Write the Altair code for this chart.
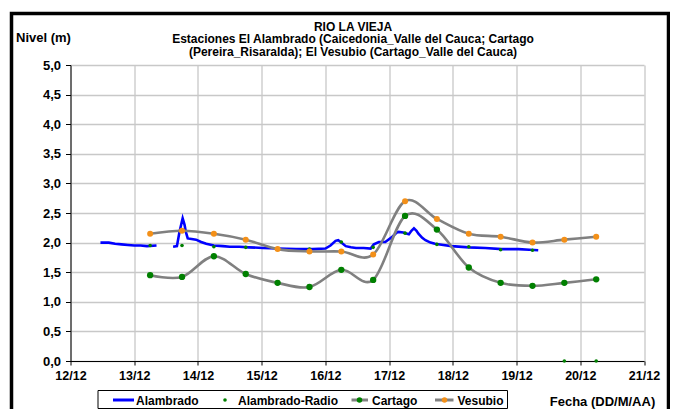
import altair as alt
import pandas as pd

# ---- Datos (día de diciembre con hora fraccionaria) ----
dias_estaciones = [13.25, 13.75, 14.25, 14.75, 15.25, 15.75, 16.25, 16.75,
                   17.25, 17.75, 18.25, 18.75, 19.25, 19.75, 20.25]
vesubio = [2.15, 2.20, 2.15, 2.05, 1.89, 1.85, 1.85, 1.80,
           2.70, 2.40, 2.15, 2.10, 2.00, 2.05, 2.10]
cartago = [1.45, 1.42, 1.77, 1.47, 1.32, 1.25, 1.54, 1.37,
           2.45, 2.22, 1.58, 1.32, 1.27, 1.32, 1.38]
alambrado_radio = [1.95, 1.95, 1.93, 1.92, 1.90, 1.89, 2.01, 1.92,
                   2.16, 1.97, 1.93, 1.88, 1.87, 0.00, 0.00]

alambrado_dia_a = [12.47, 12.60, 12.70, 12.80, 12.90, 13.00, 13.10, 13.20, 13.35]
alambrado_nivel_a = [2.00, 2.00, 1.98, 1.97, 1.96, 1.95, 1.95, 1.94, 1.95]

alambrado_dia_b = [13.61, 13.67, 13.71, 13.76, 13.79, 13.81, 13.84, 13.90, 13.97,
                   14.05, 14.13, 14.25, 14.39, 14.50, 14.65, 14.80, 15.02, 15.25,
                   15.54, 15.80, 16.00, 16.08, 16.16, 16.20, 16.24, 16.32, 16.40,
                   16.48, 16.60, 16.71, 16.76, 16.84, 16.94, 17.05, 17.12, 17.15,
                   17.22, 17.31, 17.35, 17.39, 17.43, 17.46, 17.52, 17.57, 17.65,
                   17.72, 17.85, 17.98, 18.25, 18.51, 18.77, 19.03, 19.20, 19.34]
alambrado_nivel_b = [1.93, 1.94, 2.18, 2.41, 2.30, 2.18, 2.07, 2.06, 2.05,
                     2.01, 1.98, 1.95, 1.94, 1.93, 1.93, 1.92, 1.91, 1.90,
                     1.89, 1.89, 1.90, 1.95, 2.03, 2.04, 2.01, 1.94, 1.92,
                     1.91, 1.91, 1.90, 1.97, 2.01, 2.01, 2.10, 2.17, 2.18,
                     2.17, 2.14, 2.20, 2.24, 2.20, 2.15, 2.08, 2.04, 2.00,
                     1.98, 1.96, 1.94, 1.92, 1.91, 1.89, 1.89, 1.88, 1.87]

x_ticks = list(range(12, 22))
y_ticks = [0, 0.5, 1, 1.5, 2, 2.5, 3, 3.5, 4, 4.5, 5]

FONT = "Liberation Sans"
BLUE = "#0000FF"
GREEN = "#008000"
ORANGE = "#F39019"
GRAY = "#808080"
GRID = "#C8C8C8"

df_alam = pd.DataFrame({
    "dia": alambrado_dia_a + alambrado_dia_b,
    "nivel": alambrado_nivel_a + alambrado_nivel_b,
    "tramo": [1] * len(alambrado_dia_a) + [2] * len(alambrado_dia_b),
})
df_radio = pd.DataFrame({"dia": dias_estaciones, "nivel": alambrado_radio})
df_cart = pd.DataFrame({"dia": dias_estaciones, "nivel": cartago})
df_vesu = pd.DataFrame({"dia": dias_estaciones, "nivel": vesubio})
one = pd.DataFrame({"k": [0]})

x_enc = alt.X(
    "dia:Q",
    scale=alt.Scale(domain=[12, 21], nice=False, zero=False),
    axis=alt.Axis(
        values=x_ticks, labelExpr="datum.value + '/12'", labelFlush=False,
        title="Fecha (DD/M/AA)", titleX=531.5, titleY=40.5,
        titleAlign="center", titleBaseline="middle",
        titleFont=FONT, titleFontSize=13, titleFontWeight="bold", titleColor="#000",
        labelFont=FONT, labelFontSize=12.5, labelFontWeight="bold", labelColor="#000",
        labelPadding=4, tickSize=4, tickColor="#000", domainColor="#000",
        grid=True, gridColor=GRID, gridWidth=1.3,
    ),
)
y_enc = alt.Y(
    "nivel:Q",
    scale=alt.Scale(domain=[0, 5], nice=False, zero=True),
    axis=alt.Axis(
        values=y_ticks,
        labelExpr="replace(format(datum.value, '.1f'), '.', ',')",
        title="Nivel (m)", titleAngle=0, titleX=-27.5, titleY=-28,
        titleAlign="center", titleBaseline="middle",
        titleFont=FONT, titleFontSize=13, titleFontWeight="bold", titleColor="#000",
        labelFont=FONT, labelFontSize=13, labelFontWeight="bold", labelColor="#000",
        labelPadding=5, tickSize=5, tickColor="#000", domainColor="#000",
        grid=True, gridColor=GRID, gridWidth=1.3,
    ),
)

alam_line = alt.Chart(df_alam).mark_line(color=BLUE, strokeWidth=2.6).encode(
    x=x_enc, y=y_enc, detail="tramo:N")
radio_pts = alt.Chart(df_radio).mark_circle(color=GREEN, size=13, opacity=1).encode(
    x=x_enc, y=y_enc)
cart_line = alt.Chart(df_cart).mark_line(color=GRAY, strokeWidth=2.6,
                                         interpolate="cardinal").encode(x=x_enc, y=y_enc)
cart_pts = alt.Chart(df_cart).mark_circle(color=GREEN, size=40, opacity=1).encode(
    x=x_enc, y=y_enc)
vesu_line = alt.Chart(df_vesu).mark_line(color=GRAY, strokeWidth=2.6,
                                         interpolate="cardinal").encode(x=x_enc, y=y_enc)
vesu_pts = alt.Chart(df_vesu).mark_circle(color=ORANGE, size=36, opacity=1).encode(
    x=x_enc, y=y_enc)

# ---- Título ----
title_lines = [
    "RIO LA VIEJA",
    "Estaciones El Alambrado (Caicedonia_Valle del Cauca; Cartago",
    "(Pereira_Risaralda);  El Vesubio (Cartago_Valle del Cauca)",
]
title_y = [-38.5, -25.8, -13.1]
titles = [
    alt.Chart(one).mark_text(font=FONT, fontSize=12, fontWeight="bold", color="#000",
                             align="center", baseline="middle").encode(
        x=alt.value(282.5), y=alt.value(ty), text=alt.value(t))
    for t, ty in zip(title_lines, title_y)
]

# ---- Marco exterior ----
frame = alt.Chart(one).mark_rect(fillOpacity=0, stroke="#000", strokeWidth=3.5).encode(
    x=alt.value(-59), x2=alt.value(598), y=alt.value(-51.5), y2=alt.value(370))

# ---- Leyenda ----
LY = 335
leg_box = alt.Chart(one).mark_rect(fill="#FFFFFF", stroke="#000", strokeWidth=1).encode(
    x=alt.value(27.5), x2=alt.value(437), y=alt.value(325.5), y2=alt.value(343.5))
leg_blue = alt.Chart(one).mark_rule(color=BLUE, strokeWidth=3).encode(
    x=alt.value(42.5), x2=alt.value(63.5), y=alt.value(LY))
leg_radio = alt.Chart(one).mark_circle(color=GREEN, size=13, opacity=1).encode(
    x=alt.value(154.5), y=alt.value(LY))
leg_cart_l = alt.Chart(one).mark_rule(color=GRAY, strokeWidth=3).encode(
    x=alt.value(281), x2=alt.value(297.5), y=alt.value(LY))
leg_cart_p = alt.Chart(one).mark_circle(color=GREEN, size=30, opacity=1).encode(
    x=alt.value(289), y=alt.value(LY))
leg_vesu_l = alt.Chart(one).mark_rule(color=GRAY, strokeWidth=3).encode(
    x=alt.value(364.5), x2=alt.value(383), y=alt.value(LY))
leg_vesu_p = alt.Chart(one).mark_circle(color=ORANGE, size=30, opacity=1).encode(
    x=alt.value(374), y=alt.value(LY))
leg_names = ["Alambrado", "Alambrado-Radio", "Cartago", "Vesubio"]
leg_x = [65.5, 167.5, 301.5, 387]
leg_texts = [
    alt.Chart(one).mark_text(font=FONT, fontSize=12, fontWeight="bold", color="#000",
                             align="left", baseline="middle").encode(
        x=alt.value(lx), y=alt.value(LY + 0.5), text=alt.value(n))
    for n, lx in zip(leg_names, leg_x)
]

chart = alt.layer(
    alam_line, radio_pts, cart_line, cart_pts, vesu_line, vesu_pts,
    *titles, frame,
    leg_box, leg_blue, leg_radio, leg_cart_l, leg_cart_p, leg_vesu_l, leg_vesu_p,
    *leg_texts,
).properties(
    width=573.5, height=296,
    padding={"left": 62.5, "top": 57, "right": 26, "bottom": 48},
    autosize=alt.AutoSizeParams(type="none"),
    background="#FFFFFF",
).configure_view(strokeWidth=0)

chart.save("out.html", embed_options={"renderer": "svg", "actions": False})
